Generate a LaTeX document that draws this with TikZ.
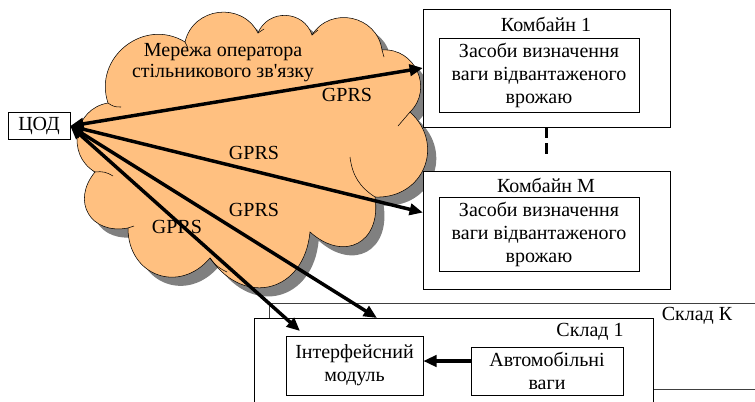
\documentclass[tikz,border=0pt]{standalone}
\usepackage{fontspec}
\setmainfont{Liberation Serif}
\usetikzlibrary{positioning,arrows.meta,shadows}
\definecolor{cloudfill}{RGB}{255,192,128}
\definecolor{cloudshade}{RGB}{128,128,128}

\begin{document}
\begin{tikzpicture}[
    x=0.75pt, y=-0.75pt,
    every node/.style={font=\fontsize{15}{17.25}\selectfont},
    box/.style={draw, thin, fill=white, align=center, inner sep=0pt},
    frame/.style={draw, thin, fill=white, minimum width=185pt, minimum height=88.5pt},
    link/.style={line width=2.6pt, {Triangle[length=10pt,width=8.5pt]}-{Triangle[length=10pt,width=8.5pt]}},
    feed/.style={line width=2.6pt, -{Triangle[length=10pt,width=8.5pt]}},
    puff/.style={bend left=70, looseness=1.25},
    crease/.style={thin}
  ]
  \useasboundingbox (0,0) rectangle (755,401);
  \clip (0,0) rectangle (755,401);

  % cloud
  \filldraw[fill=cloudfill, draw=black, thin,
    drop shadow={shadow xshift=6.5pt, shadow yshift=-6.5pt, fill=cloudshade, opacity=1}]
    (95,172) to[puff] (108,103) to[puff] (185,42) to[puff] (258,33)
    to[puff] (312,35) to[puff] (382,50) to[puff] (410,112) to[puff, looseness=1.35] (375,197)
    to[puff, looseness=1.6] (310,232) to[puff, looseness=1.5] (210,258)
    to[puff, looseness=1.4] (128,228) to[puff, looseness=1.5] (95,172) -- cycle;
  \draw[crease] (95,172) to[bend left=20] (113,176);
  \draw[crease] (128,228) -- (134,226);
  \draw[crease] (108,103) to[bend right=20] (121,107);
  \draw[crease] (185,42) -- (188,48);
  \draw[crease] (258,33) -- (264,29);
  \draw[crease] (312,35) -- (318,30);
  \draw[crease] (382,50) -- (384,57);
  \draw[crease] (410,112) -- (398,126);
  \draw[crease] (375,197) to[bend left=25] (350,157);
  \draw[crease] (210,258) to[bend right=15] (227,272);
  \node[align=center, font=\fontsize{15}{15.75}\selectfont] (net) at (223,63)
    {Мережа оператора\\стільникового зв\textquotesingle язку};

  \node[box, minimum width=46.5pt, minimum height=20.25pt] (cod) at (39,126) {ЦОД};

  % combines
  \node[frame] (km1) at (546.5,68) {};
  \node (km1t) at (546,24) {Комбайн 1};
  \node[box, minimum width=150pt, minimum height=55.5pt] (zs1) at (539,75)
    {Засоби визначення\\ваги відвантаженого\\врожаю};
  \node[frame] (km2) [below=33pt of km1] {};
  \node (km2t) at (546,185) {Комбайн M};
  \node[box, minimum width=150pt, minimum height=55pt] (zs2) [below=63.75pt of zs1]
    {Засоби визначення\\ваги відвантаженого\\врожаю};
  \draw[line width=2.2pt, dash pattern=on 8pt off 4pt] (km1.south) -- ++(0,30);

  % stores
  \node[draw=black!75, thin, minimum width=383.25pt, minimum height=64.5pt] (skk) at (524.5,346) {};
  \node (skkt) at (697,316) {Склад К};
  \node[draw, thin, fill=white, minimum width=299.25pt, minimum height=76.5pt] (sk1) at (453.5,369) {};
  \node (sk1t) at (590,332) {Склад 1};
  \node[box, minimum width=102.75pt, minimum height=44.25pt] (intf) at (354.5,365.5)
    {Інтерфейсний\\модуль};
  \node[box, minimum width=114pt, minimum height=36pt] (avto) at (547,371)
    {Автомобільні\\ваги};
  \draw[feed] ([yshift=7.5pt]avto.west) -- ([yshift=7.5pt]avto.west -| intf.east);

  % GPRS links
  \coordinate (km2in) at ([yshift=13.5pt]km2.west);
  \coordinate (sk1in) at (377,318);
  \coordinate (intfin) at (300,331);
  \draw[link] (cod.east) -- (km1.west);
  \draw[link] (cod.east) -- (km2in);
  \draw[link] (cod.east) -- (sk1in);
  \draw[link] (cod.east) -- (intfin);
  \node (g1) at (347,95) {GPRS};
  \node (g2) at (254,153) {GPRS};
  \node (g3) at (254,210) {GPRS};
  \node (g4) at (177,227) {GPRS};
\end{tikzpicture}
\end{document}
